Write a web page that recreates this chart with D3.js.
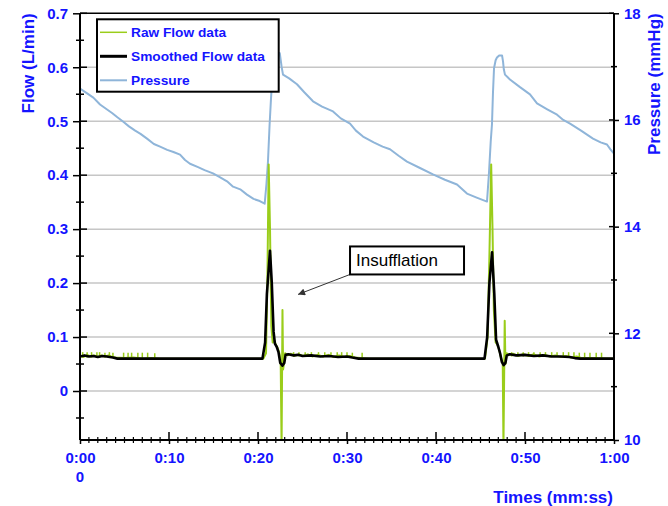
<!DOCTYPE html>
<html>
<head>
<meta charset="utf-8">
<script src="https://cdn.jsdelivr.net/npm/d3@7"></script>
<style>
  body { margin: 0; background: #fff; }
  text { font-family: "Liberation Sans", Arial, sans-serif; }
</style>
</head>
<body>
<div id="chart"></div>
<script>
// ---- data (time in seconds) ----
var timeTicks = [0, 10, 20, 30, 40, 50, 60];
var timeTickLabels = ["0:00", "0:10", "0:20", "0:30", "0:40", "0:50", "1:00"];
var flowTicks = [0, 0.1, 0.2, 0.3, 0.4, 0.5, 0.6, 0.7];
var flowMinorTicks = [-0.05, 0.05, 0.15, 0.25, 0.35, 0.45, 0.55, 0.65];
var pressureTicks = [10, 12, 14, 16, 18];
var pressureMinorTicks = [11, 13, 15, 17];

// smoothed flow [t, L/min]
var smoothFlow = [
  [0, 0.064], [0.5, 0.066], [1, 0.064], [1.5, 0.065], [2, 0.063], [2.5, 0.065], [3, 0.064],
  [3.7, 0.062], [4.2, 0.060], [20.5, 0.060], [20.8, 0.09], [21.0, 0.18], [21.35, 0.26],
  [21.55, 0.20], [21.75, 0.11], [21.9, 0.088], [22.1, 0.082], [22.3, 0.072], [22.5, 0.052],
  [22.75, 0.047], [22.95, 0.052], [23.1, 0.067], [23.4, 0.068], [24, 0.066], [24.5, 0.067],
  [25, 0.065], [26, 0.066], [27, 0.064], [28, 0.065], [29, 0.063], [30, 0.064], [30.6, 0.062],
  [31.3, 0.060], [45.45, 0.060], [45.75, 0.10], [46.0, 0.20], [46.3, 0.257], [46.55, 0.18],
  [46.75, 0.095], [47.0, 0.082], [47.2, 0.07], [47.4, 0.054], [47.6, 0.048], [47.8, 0.052],
  [47.95, 0.066], [48.3, 0.068], [49, 0.066], [50, 0.067], [51, 0.065], [52, 0.066],
  [53, 0.064], [54, 0.064], [55, 0.063], [55.6, 0.061], [56.2, 0.060], [60, 0.060]
];

// raw flow [t, L/min]
var rawFlow = [
  [0, 0.066], [0.4, 0.063], [0.8, 0.067], [1.2, 0.064], [1.6, 0.066], [2.0, 0.063],
  [2.4, 0.066], [2.8, 0.064], [3.2, 0.066], [3.6, 0.063], [4.0, 0.062], [5, 0.061],
  [6, 0.062], [7, 0.060], [8, 0.061], [9, 0.060], [20.6, 0.060], [20.9, 0.07], [21.05, 0.2],
  [21.2, 0.42], [21.35, 0.30], [21.5, 0.12], [21.65, 0.09], [21.8, 0.095], [22.0, 0.086],
  [22.2, 0.08], [22.4, 0.07], [22.55, 0.052], [22.65, -0.1], [22.75, 0.15], [22.82, 0.04],
  [22.95, 0.055], [23.05, 0.07], [23.3, 0.066], [23.7, 0.069], [24.1, 0.065], [24.6, 0.068],
  [25.1, 0.065], [25.6, 0.068], [26.1, 0.064], [26.7, 0.067], [27.3, 0.064], [27.9, 0.067],
  [28.5, 0.063], [29.1, 0.066], [29.7, 0.063], [30.3, 0.065], [30.9, 0.062], [31.5, 0.061],
  [32.5, 0.060], [45.5, 0.060], [45.8, 0.1], [46.0, 0.25], [46.2, 0.42], [46.35, 0.30],
  [46.5, 0.15], [46.7, 0.09], [46.9, 0.086], [47.1, 0.076], [47.3, 0.062], [47.5, 0.05],
  [47.58, -0.1], [47.72, 0.13], [47.8, 0.05], [47.95, 0.07], [48.2, 0.067], [48.7, 0.069],
  [49.2, 0.065], [49.8, 0.068], [50.4, 0.065], [51.0, 0.068], [51.6, 0.064], [52.2, 0.067],
  [52.8, 0.064], [53.4, 0.066], [54.0, 0.063], [54.6, 0.065], [55.2, 0.062], [55.8, 0.064],
  [56.4, 0.061], [57.5, 0.061], [60, 0.060]
];

// short noise spikes on the raw trace [t, low, high]
var rawBlips = [
  [0.3, 0.062, 0.072], [0.8, 0.062, 0.072], [1.3, 0.062, 0.072], [1.9, 0.062, 0.072],
  [2.2, 0.062, 0.072], [2.8, 0.062, 0.071], [3.3, 0.062, 0.072], [3.7, 0.062, 0.071],
  [4.9, 0.060, 0.071], [5.4, 0.060, 0.071], [5.8, 0.060, 0.071], [6.5, 0.060, 0.071],
  [7.0, 0.060, 0.071], [7.6, 0.060, 0.071], [8.4, 0.060, 0.070],
  [24.0, 0.064, 0.072], [24.6, 0.064, 0.072], [25.3, 0.064, 0.072], [26.0, 0.064, 0.072],
  [26.8, 0.063, 0.072], [27.5, 0.063, 0.072], [28.2, 0.063, 0.072], [28.9, 0.063, 0.072],
  [29.4, 0.062, 0.072], [30.0, 0.062, 0.072], [30.6, 0.061, 0.071], [31.7, 0.060, 0.071],
  [48.5, 0.064, 0.072], [49.2, 0.064, 0.072], [49.8, 0.064, 0.072], [50.4, 0.064, 0.072],
  [51.0, 0.064, 0.072], [51.7, 0.063, 0.072], [52.3, 0.063, 0.072], [53.0, 0.063, 0.072],
  [53.6, 0.063, 0.072], [54.3, 0.062, 0.072], [54.9, 0.062, 0.072], [55.5, 0.062, 0.072],
  [56.1, 0.061, 0.071], [56.7, 0.061, 0.071], [57.3, 0.061, 0.071], [58.0, 0.060, 0.071],
  [58.6, 0.060, 0.071]
];

// pressure [t, mmHg]
var pressure = [
  [0, 16.59], [0.8, 16.5], [1.5, 16.42], [2.25, 16.29], [3, 16.2], [3.6, 16.13], [4.2, 16.05],
  [4.83, 15.97], [5.5, 15.88], [6.2, 15.8], [6.8, 15.74], [7.53, 15.65], [8.3, 15.55],
  [9, 15.5], [9.8, 15.44], [10.5, 15.4], [11.24, 15.35], [11.8, 15.25], [12.36, 15.18],
  [13.2, 15.12], [14.0, 15.06], [14.94, 15.0], [15.7, 14.93], [16.52, 14.85], [17.2, 14.75],
  [18.0, 14.7], [18.76, 14.6], [19.5, 14.52], [20.2, 14.48], [20.75, 14.43], [20.95, 14.8],
  [21.12, 15.22], [21.3, 15.9], [21.46, 16.4], [21.65, 16.9], [21.85, 17.15], [22.1, 17.27],
  [22.45, 17.25], [22.65, 17.0], [22.81, 16.85], [23.5, 16.78], [24.38, 16.67], [25.2, 16.52],
  [26.18, 16.35], [27.2, 16.25], [28.43, 16.16], [29.3, 16.03], [30.34, 15.93], [31.0, 15.8],
  [31.8, 15.69], [33, 15.58], [34.0, 15.5], [34.83, 15.45], [35.8, 15.33], [36.74, 15.22],
  [38.2, 15.1], [39.66, 14.98], [41, 14.88], [42.36, 14.79], [43.48, 14.62], [44.5, 14.55],
  [45.73, 14.47], [45.95, 15.0], [46.15, 15.6], [46.29, 15.92], [46.4, 16.5], [46.52, 16.97],
  [46.7, 17.12], [46.85, 17.17], [47.1, 17.21], [47.42, 17.21], [47.53, 17.1], [47.62, 16.95],
  [47.75, 16.85], [48.31, 16.76], [49.4, 16.62], [50.56, 16.48], [51.35, 16.31], [52.5, 16.2],
  [53.6, 16.1], [54.3, 16.0], [55.06, 15.93], [56.3, 15.8], [57.64, 15.65], [58.5, 15.58],
  [59.21, 15.54], [59.6, 15.45], [60, 15.37]
];

var legendNames = ["Raw Flow data", "Smoothed Flow data", "Pressure"];
var annotation = { text: "Insufflation", t: 30.34, flow: 0.216, tipT: 24.5, tipFlow: 0.179 };

// ---- drawing ----
var blue = "#1414ff";
var green = "#9acd1a";
var pressureColor = "#8fb5d9";

var svg = d3.select("#chart")
    .append("svg")
    .attr("width", 668)
    .attr("height", 506);

var plot = { left: 80, right: 614, top: 13.3, bottom: 440 };

var x = d3.scaleLinear().domain([0, 60]).range([plot.left, plot.right]);
var yFlow = d3.scaleLinear().domain([-0.0908, 0.7]).range([plot.bottom, plot.top]);
var yPres = d3.scaleLinear().domain([10, 18]).range([plot.bottom, plot.top]);

svg.append("defs").append("clipPath")
    .attr("id", "clip")
    .append("rect")
    .attr("x", plot.left)
    .attr("y", plot.top)
    .attr("width", plot.right - plot.left)
    .attr("height", plot.bottom - plot.top);

// grid lines
svg.append("g")
    .selectAll("line")
    .data(flowTicks.filter(function (d) { return d < 0.7; }))
    .enter().append("line")
    .attr("x1", plot.left)
    .attr("x2", plot.right)
    .attr("y1", function (d) { return yFlow(d); })
    .attr("y2", function (d) { return yFlow(d); })
    .style("stroke", "#c6c6c6")
    .style("stroke-width", 1.5);

var series = svg.append("g").attr("clip-path", "url(#clip)");

var presLine = d3.line()
    .x(function (d) { return x(d[0]); })
    .y(function (d) { return yPres(d[1]); });

var flowLine = d3.line()
    .x(function (d) { return x(d[0]); })
    .y(function (d) { return yFlow(d[1]); });

series.append("path")
    .datum(pressure)
    .attr("d", presLine)
    .style("fill", "none")
    .style("stroke", pressureColor)
    .style("stroke-width", 2)
    .style("stroke-linejoin", "round");

series.append("path")
    .datum(rawFlow)
    .attr("d", flowLine)
    .style("fill", "none")
    .style("stroke", green)
    .style("stroke-width", 2)
    .style("stroke-linejoin", "round");

series.selectAll(".blip")
    .data(rawBlips)
    .enter().append("line")
    .attr("class", "blip")
    .attr("x1", function (d) { return x(d[0]); })
    .attr("x2", function (d) { return x(d[0]); })
    .attr("y1", function (d) { return yFlow(d[1]); })
    .attr("y2", function (d) { return yFlow(d[2]); })
    .style("stroke", green)
    .style("stroke-width", 1.5);

series.append("path")
    .datum(smoothFlow)
    .attr("d", flowLine)
    .style("fill", "none")
    .style("stroke", "#000")
    .style("stroke-width", 2.6)
    .style("stroke-linejoin", "round");

// frame: top border, left and right axis lines
svg.append("line")
    .attr("x1", plot.left).attr("x2", plot.right)
    .attr("y1", plot.top).attr("y2", plot.top)
    .style("stroke", "#000").style("stroke-width", 1.5);

// left axis (flow)
var leftAxis = svg.append("g")
    .attr("transform", "translate(" + plot.left + ",0)")
    .call(d3.axisLeft(yFlow)
        .tickValues(flowTicks)
        .tickFormat(function (d) { return d === 0 ? "0" : d3.format(".1f")(d); })
        .tickSize(7)
        .tickPadding(5));
leftAxis.select(".domain").remove();
leftAxis.selectAll("text")
    .style("font-size", "15px").style("font-weight", "bold").style("fill", blue)
    .style("font-family", "'Liberation Sans', Arial, sans-serif");
leftAxis.selectAll(".tick line").style("stroke-width", 1.5);

svg.append("g").selectAll("line")
    .data(flowTicks)
    .enter().append("line")
    .attr("x1", plot.left).attr("x2", plot.left + 7)
    .attr("y1", function (d) { return yFlow(d); })
    .attr("y2", function (d) { return yFlow(d); })
    .style("stroke", "#000").style("stroke-width", 1.5);

svg.append("g").selectAll("line")
    .data(flowMinorTicks)
    .enter().append("line")
    .attr("x1", plot.left - 4).attr("x2", plot.left + 4)
    .attr("y1", function (d) { return yFlow(d); })
    .attr("y2", function (d) { return yFlow(d); })
    .style("stroke", "#000").style("stroke-width", 1.5);

svg.append("line")
    .attr("x1", plot.left).attr("x2", plot.left)
    .attr("y1", plot.top).attr("y2", plot.bottom)
    .style("stroke", "#000").style("stroke-width", 2);

// right axis (pressure)
var rightAxis = svg.append("g")
    .attr("transform", "translate(" + plot.right + ",0)")
    .call(d3.axisRight(yPres)
        .tickValues(pressureTicks)
        .tickSize(5)
        .tickPadding(5));
rightAxis.select(".domain").remove();
rightAxis.selectAll("text")
    .style("font-size", "15px").style("font-weight", "bold").style("fill", blue)
    .style("font-family", "'Liberation Sans', Arial, sans-serif");
rightAxis.selectAll(".tick line").style("stroke-width", 1.5);

svg.append("g").selectAll("line")
    .data(pressureTicks)
    .enter().append("line")
    .attr("x1", plot.right - 5).attr("x2", plot.right)
    .attr("y1", function (d) { return yPres(d); })
    .attr("y2", function (d) { return yPres(d); })
    .style("stroke", "#000").style("stroke-width", 1.5);

svg.append("g").selectAll("line")
    .data(pressureMinorTicks)
    .enter().append("line")
    .attr("x1", plot.right - 3).attr("x2", plot.right + 3)
    .attr("y1", function (d) { return yPres(d); })
    .attr("y2", function (d) { return yPres(d); })
    .style("stroke", "#000").style("stroke-width", 1.5);

svg.append("line")
    .attr("x1", plot.right).attr("x2", plot.right)
    .attr("y1", plot.top).attr("y2", plot.bottom)
    .style("stroke", "#000").style("stroke-width", 2);

// bottom axis (time)
var bottomAxis = svg.append("g")
    .attr("transform", "translate(0," + plot.bottom + ")")
    .call(d3.axisBottom(x)
        .tickValues(timeTicks)
        .tickFormat(function (d, i) { return timeTickLabels[i]; })
        .tickSize(4)
        .tickPadding(8));
bottomAxis.select(".domain").remove();
bottomAxis.selectAll("text")
    .style("font-size", "15px").style("font-weight", "bold").style("fill", blue)
    .style("font-family", "'Liberation Sans', Arial, sans-serif");
bottomAxis.selectAll(".tick line").style("stroke-width", 1.5);

svg.append("g").selectAll("line")
    .data(timeTicks)
    .enter().append("line")
    .attr("x1", function (d) { return x(d); })
    .attr("x2", function (d) { return x(d); })
    .attr("y1", plot.bottom - 8).attr("y2", plot.bottom)
    .style("stroke", "#000").style("stroke-width", 1.5);

svg.append("g").selectAll("line")
    .data(d3.range(1, 60).filter(function (d) { return d % 10 !== 0; }))
    .enter().append("line")
    .attr("x1", function (d) { return x(d); })
    .attr("x2", function (d) { return x(d); })
    .attr("y1", plot.bottom - 3).attr("y2", plot.bottom + 3)
    .style("stroke", "#000").style("stroke-width", 1.2);

svg.append("line")
    .attr("x1", plot.left).attr("x2", plot.right)
    .attr("y1", plot.bottom).attr("y2", plot.bottom)
    .style("stroke", "#000").style("stroke-width", 2);

// extra "0" under the first time label
svg.append("text")
    .attr("x", x(0))
    .attr("y", 477)
    .attr("dy", "0.35em")
    .attr("text-anchor", "middle")
    .style("font-size", "15px").style("font-weight", "bold").style("fill", blue)
    .text("0");

// axis titles
svg.append("text")
    .attr("x", plot.right - 1)
    .attr("y", 497)
    .attr("dy", "0.35em")
    .attr("text-anchor", "end")
    .style("font-size", "17px").style("font-weight", "bold").style("fill", blue)
    .text("Times (mm:ss)");

svg.append("text")
    .attr("transform", "rotate(-90)")
    .attr("x", -plot.top)
    .attr("y", 28)
    .attr("dy", "0.35em")
    .attr("text-anchor", "end")
    .style("font-size", "17px").style("font-weight", "bold").style("fill", blue)
    .text("Flow (L/min)");

svg.append("text")
    .attr("transform", "rotate(-90)")
    .attr("x", -plot.top)
    .attr("y", 654)
    .attr("dy", "0.35em")
    .attr("text-anchor", "end")
    .style("font-size", "17px").style("font-weight", "bold").style("fill", blue)
    .text("Pressure (mmHg)");

// legend
var legend = svg.append("g").attr("transform", "translate(97,19.3)");
legend.append("rect")
    .attr("width", 181.7)
    .attr("height", 72.4)
    .style("fill", "#fff")
    .style("stroke", "#000")
    .style("stroke-width", 2);

var legendStyles = [
    { color: green, width: 1.5 },
    { color: "#000", width: 3 },
    { color: pressureColor, width: 2 }
];

var item = legend.selectAll(".item")
    .data(legendNames)
    .enter().append("g")
    .attr("class", "item")
    .attr("transform", function (d, i) { return "translate(0," + (13 + i * 24) + ")"; });

item.append("line")
    .attr("x1", 3).attr("x2", 30)
    .style("stroke", function (d, i) { return legendStyles[i].color; })
    .style("stroke-width", function (d, i) { return legendStyles[i].width; });

item.append("text")
    .attr("x", 34)
    .attr("dy", "0.35em")
    .style("font-size", "13.7px").style("font-weight", "bold").style("fill", blue)
    .text(function (d) { return d; });

// annotation
svg.append("defs").append("marker")
    .attr("id", "arrow")
    .attr("viewBox", "0 0 10 10")
    .attr("refX", 10).attr("refY", 5)
    .attr("markerWidth", 9).attr("markerHeight", 7)
    .attr("orient", "auto")
    .attr("markerUnits", "userSpaceOnUse")
    .append("path")
    .attr("d", "M0,0L10,5L0,10z")
    .style("fill", "#333");

svg.append("line")
    .attr("x1", x(annotation.t))
    .attr("y1", yFlow(annotation.flow))
    .attr("x2", x(annotation.tipT))
    .attr("y2", yFlow(annotation.tipFlow))
    .style("stroke", "#333")
    .style("stroke-width", 1)
    .attr("marker-end", "url(#arrow)");

var note = svg.append("g")
    .attr("transform", "translate(" + x(annotation.t) + "," + (yFlow(annotation.flow) - 28) + ")");
note.append("rect")
    .attr("width", 114)
    .attr("height", 28)
    .style("fill", "#fff")
    .style("stroke", "#000")
    .style("stroke-width", 2);
note.append("text")
    .attr("x", 6)
    .attr("y", 14)
    .attr("dy", "0.35em")
    .style("font-size", "17px")
    .style("fill", "#000")
    .text(annotation.text);
</script>
</body>
</html>
